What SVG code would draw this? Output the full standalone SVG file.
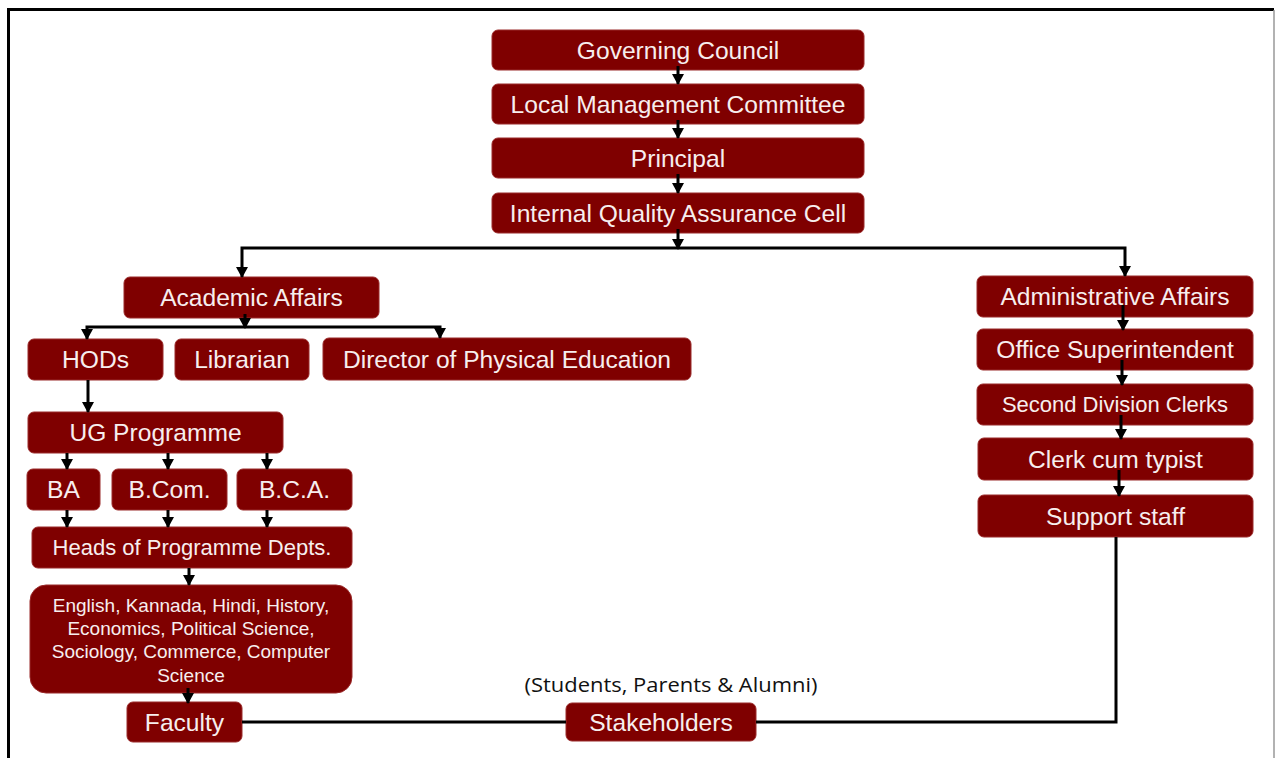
<svg xmlns="http://www.w3.org/2000/svg" width="1275" height="758" viewBox="0 0 1275 758">
<style>
.box{fill:#7f0000;stroke:#9a2a2a;stroke-width:1}
.t{fill:#f7eeee;font-family:"Liberation Sans",Arial,sans-serif;font-size:24.6px;text-anchor:middle}
.t22{font-size:22px}
.t19{font-size:19px}
.c{fill:none;stroke:#000;stroke-width:3;stroke-linejoin:miter}
.note{fill:#111;font-family:"Open Sans","Liberation Sans",sans-serif;font-size:20px;text-anchor:middle}
</style>
<defs>
<marker id="arr" markerUnits="userSpaceOnUse" markerWidth="13" markerHeight="13" refX="10" refY="6.5" orient="auto">
<path d="M0,0.5 L11,6.5 L0,12.5 z" fill="#000"/>
</marker>
</defs>
<rect width="1275" height="758" fill="#fff"/>
<g id="frame">
<path d="M8.5,760 V9.5 H1274" fill="none" stroke="#000" stroke-width="3"/>
<line x1="1274" y1="10" x2="1274" y2="758" stroke="#999" stroke-width="1.5"/>
</g>
<g id="n-gc"><rect class="box" x="492" y="30" width="372" height="40" rx="6"/><text class="t" x="678" y="58.5">Governing Council</text></g>
<g id="n-lmc"><rect class="box" x="492" y="84" width="372" height="40" rx="6"/><text class="t" x="678" y="112.5">Local Management Committee</text></g>
<g id="n-principal"><rect class="box" x="492" y="138" width="372" height="40" rx="6"/><text class="t" x="678" y="166.5">Principal</text></g>
<g id="n-iqac"><rect class="box" x="492" y="193" width="372" height="40" rx="6"/><text class="t" x="678" y="221.5">Internal Quality Assurance Cell</text></g>
<g id="n-academic"><rect class="box" x="124" y="277" width="255" height="41" rx="6"/><text class="t" x="251.5" y="306">Academic Affairs</text></g>
<g id="n-hods"><rect class="box" x="28" y="339" width="135" height="41" rx="6"/><text class="t" x="95.5" y="368">HODs</text></g>
<g id="n-librarian"><rect class="box" x="175" y="339" width="134" height="41" rx="6"/><text class="t" x="242" y="368">Librarian</text></g>
<g id="n-director"><rect class="box" x="323" y="338" width="368" height="42" rx="6"/><text class="t" x="507" y="367.5">Director of Physical Education</text></g>
<g id="n-ug"><rect class="box" x="28" y="412" width="255" height="41" rx="6"/><text class="t" x="155.5" y="441">UG Programme</text></g>
<g id="n-ba"><rect class="box" x="27" y="469" width="73" height="41" rx="6"/><text class="t" x="63.5" y="498">BA</text></g>
<g id="n-bcom"><rect class="box" x="112" y="469" width="115" height="41" rx="6"/><text class="t" x="169.5" y="498">B.Com.</text></g>
<g id="n-bca"><rect class="box" x="237" y="469" width="115" height="41" rx="6"/><text class="t" x="294.5" y="498">B.C.A.</text></g>
<g id="n-heads"><rect class="box" x="32" y="527" width="320" height="41" rx="6"/><text class="t t22" x="192" y="555">Heads of Programme Depts.</text></g>
<g id="n-subjects"><rect class="box" x="30" y="585" width="322" height="108" rx="16"/>
<text class="t t19" x="191" y="611.5">English, Kannada, Hindi, History,</text>
<text class="t t19" x="191" y="634.5">Economics, Political Science,</text>
<text class="t t19" x="191" y="658">Sociology, Commerce, Computer</text>
<text class="t t19" x="191" y="681.5">Science</text></g>
<g id="n-faculty"><rect class="box" x="127" y="702" width="115" height="40" rx="6"/><text class="t" x="184.5" y="730.5">Faculty</text></g>
<g id="n-stakeholders"><rect class="box" x="566" y="703" width="190" height="38" rx="6"/><text class="t" x="661" y="731">Stakeholders</text></g>
<text class="note" x="671" y="692" textLength="293" lengthAdjust="spacingAndGlyphs">(Students, Parents &amp; Alumni)</text>
<g id="n-admin"><rect class="box" x="977" y="276" width="276" height="41" rx="6"/><text class="t" x="1115" y="305">Administrative Affairs</text></g>
<g id="n-office"><rect class="box" x="977" y="329" width="276" height="41" rx="6"/><text class="t" x="1115" y="358">Office Superintendent</text></g>
<g id="n-sdc"><rect class="box" x="977" y="384" width="276" height="41" rx="6"/><text class="t t22" x="1115" y="412">Second Division Clerks</text></g>
<g id="n-clerk"><rect class="box" x="978" y="438" width="275" height="42" rx="6"/><text class="t" x="1115.5" y="467.5">Clerk cum typist</text></g>
<g id="n-support"><rect class="box" x="978" y="495" width="275" height="42" rx="6"/><text class="t" x="1115.5" y="524.5">Support staff</text></g>
<g id="connectors">
<path class="c" d="M678,66 V84" marker-end="url(#arr)"/>
<path class="c" d="M678,120 V138" marker-end="url(#arr)"/>
<path class="c" d="M678,174 V193" marker-end="url(#arr)"/>
<path class="c" d="M678,229 V249" marker-end="url(#arr)"/>
<path class="c" d="M678,248 H242 V277" marker-end="url(#arr)"/>
<path class="c" d="M678,248 H1125 V276" marker-end="url(#arr)"/>
<path class="c" d="M245,314 V328" marker-end="url(#arr)"/>
<path class="c" d="M245,327 H87 V339" marker-end="url(#arr)"/>
<path class="c" d="M245,327 H440 V338" marker-end="url(#arr)"/>
<path class="c" d="M88,380 V412" marker-end="url(#arr)"/>
<path class="c" d="M67,453 V469" marker-end="url(#arr)"/>
<path class="c" d="M168,453 V469" marker-end="url(#arr)"/>
<path class="c" d="M267,453 V469" marker-end="url(#arr)"/>
<path class="c" d="M67,510 V527" marker-end="url(#arr)"/>
<path class="c" d="M168,510 V527" marker-end="url(#arr)"/>
<path class="c" d="M267,510 V527" marker-end="url(#arr)"/>
<path class="c" d="M189,568 V585" marker-end="url(#arr)"/>
<path class="c" d="M188,688 V703" marker-end="url(#arr)"/>
<path class="c" d="M242,722 H566"/>
<path class="c" d="M756,722 H1116 V537"/>
<path class="c" d="M1123,305 V330" marker-end="url(#arr)"/>
<path class="c" d="M1122,360 V385" marker-end="url(#arr)"/>
<path class="c" d="M1121,415 V439" marker-end="url(#arr)"/>
<path class="c" d="M1119,470 V496" marker-end="url(#arr)"/>
</g>
</svg>
